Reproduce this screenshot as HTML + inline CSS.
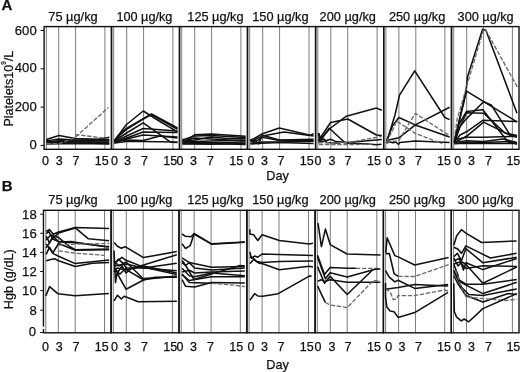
<!DOCTYPE html>
<html lang="en"><head><meta charset="utf-8"><title>Figure</title>
<style>html,body{margin:0;padding:0;background:#fff}svg{display:block}</style></head>
<body><svg width="520" height="372" viewBox="0 0 520 372">
<rect width="520" height="372" fill="#fff"/>
<line x1="46.40" y1="26.6" x2="46.40" y2="149.3" stroke="#777" stroke-width="0.95"/>
<line x1="58.70" y1="26.6" x2="58.70" y2="149.3" stroke="#777" stroke-width="0.95"/>
<line x1="75.60" y1="26.6" x2="75.60" y2="149.3" stroke="#777" stroke-width="0.95"/>
<line x1="104.90" y1="26.6" x2="104.90" y2="149.3" stroke="#777" stroke-width="0.95"/>
<line x1="113.70" y1="26.6" x2="113.70" y2="149.3" stroke="#777" stroke-width="0.95"/>
<line x1="126.70" y1="26.6" x2="126.70" y2="149.3" stroke="#777" stroke-width="0.95"/>
<line x1="143.60" y1="26.6" x2="143.60" y2="149.3" stroke="#777" stroke-width="0.95"/>
<line x1="172.90" y1="26.6" x2="172.90" y2="149.3" stroke="#777" stroke-width="0.95"/>
<line x1="181.70" y1="26.6" x2="181.70" y2="149.3" stroke="#777" stroke-width="0.95"/>
<line x1="194.70" y1="26.6" x2="194.70" y2="149.3" stroke="#777" stroke-width="0.95"/>
<line x1="211.60" y1="26.6" x2="211.60" y2="149.3" stroke="#777" stroke-width="0.95"/>
<line x1="240.90" y1="26.6" x2="240.90" y2="149.3" stroke="#777" stroke-width="0.95"/>
<line x1="249.70" y1="26.6" x2="249.70" y2="149.3" stroke="#777" stroke-width="0.95"/>
<line x1="262.70" y1="26.6" x2="262.70" y2="149.3" stroke="#777" stroke-width="0.95"/>
<line x1="279.60" y1="26.6" x2="279.60" y2="149.3" stroke="#777" stroke-width="0.95"/>
<line x1="309.00" y1="26.6" x2="309.00" y2="149.3" stroke="#777" stroke-width="0.95"/>
<line x1="317.80" y1="26.6" x2="317.80" y2="149.3" stroke="#777" stroke-width="0.95"/>
<line x1="330.80" y1="26.6" x2="330.80" y2="149.3" stroke="#777" stroke-width="0.95"/>
<line x1="347.70" y1="26.6" x2="347.70" y2="149.3" stroke="#777" stroke-width="0.95"/>
<line x1="377.10" y1="26.6" x2="377.10" y2="149.3" stroke="#777" stroke-width="0.95"/>
<line x1="385.90" y1="26.6" x2="385.90" y2="149.3" stroke="#777" stroke-width="0.95"/>
<line x1="398.90" y1="26.6" x2="398.90" y2="149.3" stroke="#777" stroke-width="0.95"/>
<line x1="415.80" y1="26.6" x2="415.80" y2="149.3" stroke="#777" stroke-width="0.95"/>
<line x1="444.90" y1="26.6" x2="444.90" y2="149.3" stroke="#777" stroke-width="0.95"/>
<line x1="453.70" y1="26.6" x2="453.70" y2="149.3" stroke="#777" stroke-width="0.95"/>
<line x1="466.70" y1="26.6" x2="466.70" y2="149.3" stroke="#777" stroke-width="0.95"/>
<line x1="483.60" y1="26.6" x2="483.60" y2="149.3" stroke="#777" stroke-width="0.95"/>
<line x1="512.40" y1="26.6" x2="512.40" y2="149.3" stroke="#777" stroke-width="0.95"/>
<line x1="45.75" y1="210.3" x2="45.75" y2="332.8" stroke="#777" stroke-width="0.95"/>
<line x1="58.30" y1="210.3" x2="58.30" y2="332.8" stroke="#777" stroke-width="0.95"/>
<line x1="75.20" y1="210.3" x2="75.20" y2="332.8" stroke="#777" stroke-width="0.95"/>
<line x1="104.50" y1="210.3" x2="104.50" y2="332.8" stroke="#777" stroke-width="0.95"/>
<line x1="113.30" y1="210.3" x2="113.30" y2="332.8" stroke="#777" stroke-width="0.95"/>
<line x1="126.30" y1="210.3" x2="126.30" y2="332.8" stroke="#777" stroke-width="0.95"/>
<line x1="143.20" y1="210.3" x2="143.20" y2="332.8" stroke="#777" stroke-width="0.95"/>
<line x1="172.40" y1="210.3" x2="172.40" y2="332.8" stroke="#777" stroke-width="0.95"/>
<line x1="181.20" y1="210.3" x2="181.20" y2="332.8" stroke="#777" stroke-width="0.95"/>
<line x1="194.20" y1="210.3" x2="194.20" y2="332.8" stroke="#777" stroke-width="0.95"/>
<line x1="211.10" y1="210.3" x2="211.10" y2="332.8" stroke="#777" stroke-width="0.95"/>
<line x1="240.30" y1="210.3" x2="240.30" y2="332.8" stroke="#777" stroke-width="0.95"/>
<line x1="249.10" y1="210.3" x2="249.10" y2="332.8" stroke="#777" stroke-width="0.95"/>
<line x1="262.10" y1="210.3" x2="262.10" y2="332.8" stroke="#777" stroke-width="0.95"/>
<line x1="279.00" y1="210.3" x2="279.00" y2="332.8" stroke="#777" stroke-width="0.95"/>
<line x1="308.50" y1="210.3" x2="308.50" y2="332.8" stroke="#777" stroke-width="0.95"/>
<line x1="317.30" y1="210.3" x2="317.30" y2="332.8" stroke="#777" stroke-width="0.95"/>
<line x1="330.30" y1="210.3" x2="330.30" y2="332.8" stroke="#777" stroke-width="0.95"/>
<line x1="347.20" y1="210.3" x2="347.20" y2="332.8" stroke="#777" stroke-width="0.95"/>
<line x1="376.80" y1="210.3" x2="376.80" y2="332.8" stroke="#777" stroke-width="0.95"/>
<line x1="385.60" y1="210.3" x2="385.60" y2="332.8" stroke="#777" stroke-width="0.95"/>
<line x1="398.60" y1="210.3" x2="398.60" y2="332.8" stroke="#777" stroke-width="0.95"/>
<line x1="415.50" y1="210.3" x2="415.50" y2="332.8" stroke="#777" stroke-width="0.95"/>
<line x1="444.70" y1="210.3" x2="444.70" y2="332.8" stroke="#777" stroke-width="0.95"/>
<line x1="453.50" y1="210.3" x2="453.50" y2="332.8" stroke="#777" stroke-width="0.95"/>
<line x1="466.50" y1="210.3" x2="466.50" y2="332.8" stroke="#777" stroke-width="0.95"/>
<line x1="483.40" y1="210.3" x2="483.40" y2="332.8" stroke="#777" stroke-width="0.95"/>
<line x1="512.40" y1="210.3" x2="512.40" y2="332.8" stroke="#777" stroke-width="0.95"/>
<polyline points="46.4,139.5 58.9,135.4 75.5,138.5 97.8,139.2 109.3,137.2" fill="none" stroke="#111" stroke-width="1.55" stroke-linejoin="round"/>
<polyline points="46.4,141.0 58.9,139.0 75.5,140.0 109.3,139.5" fill="none" stroke="#111" stroke-width="1.55" stroke-linejoin="round"/>
<polyline points="46.4,140.0 50.0,142.0 58.9,140.5 75.5,141.0 109.3,141.0" fill="none" stroke="#111" stroke-width="1.55" stroke-linejoin="round"/>
<polyline points="46.4,143.0 58.9,141.5 75.5,142.0 109.3,142.5" fill="none" stroke="#111" stroke-width="1.55" stroke-linejoin="round"/>
<polyline points="46.4,141.5 58.9,143.0 75.5,143.0 109.3,143.5" fill="none" stroke="#111" stroke-width="1.55" stroke-linejoin="round"/>
<polyline points="46.4,144.0 58.9,143.8 75.5,143.6 109.3,144.0" fill="none" stroke="#111" stroke-width="1.55" stroke-linejoin="round"/>
<polyline points="46.4,142.5 58.9,142.2 75.5,141.3 109.3,140.3" fill="none" stroke="#111" stroke-width="1.55" stroke-linejoin="round"/>
<polyline points="46.4,143.5 58.9,143.8 75.5,137.2 108.3,107.5" fill="none" stroke="#6a6a6a" stroke-width="1.35" stroke-dasharray="4.4 1.7" stroke-linejoin="round"/>
<polyline points="75.0,134.9 79.5,135.0 107.7,138.6" fill="none" stroke="#6a6a6a" stroke-width="1.35" stroke-dasharray="4.4 1.7" stroke-linejoin="round"/>
<polyline points="114.4,140.5 126.5,124.5 143.2,111.0 160.0,121.5 177.5,131.8" fill="none" stroke="#111" stroke-width="1.55" stroke-linejoin="round"/>
<polyline points="114.4,141.0 119.0,135.0 126.5,128.3 151.5,114.0 177.5,128.0" fill="none" stroke="#111" stroke-width="1.55" stroke-linejoin="round"/>
<polyline points="114.4,142.0 119.5,135.5 126.5,129.3 143.2,119.0 151.5,114.6 177.5,129.2" fill="none" stroke="#111" stroke-width="1.55" stroke-linejoin="round"/>
<polyline points="114.4,141.0 126.5,133.0 143.2,122.8 171.0,142.3 177.5,142.5" fill="none" stroke="#111" stroke-width="1.55" stroke-linejoin="round"/>
<polyline points="114.4,142.0 126.5,136.0 143.2,128.5 177.5,131.0" fill="none" stroke="#111" stroke-width="1.55" stroke-linejoin="round"/>
<polyline points="114.4,142.5 126.5,138.0 143.2,132.0 177.5,132.5" fill="none" stroke="#111" stroke-width="1.55" stroke-linejoin="round"/>
<polyline points="114.4,143.0 126.5,139.0 143.2,135.0 160.0,136.0 177.5,138.0" fill="none" stroke="#111" stroke-width="1.55" stroke-linejoin="round"/>
<polyline points="114.4,141.0 126.5,140.0 143.2,140.5 160.0,136.0 177.5,137.0" fill="none" stroke="#111" stroke-width="1.55" stroke-linejoin="round"/>
<polyline points="114.4,143.0 126.5,141.5 143.2,141.5 177.5,142.0" fill="none" stroke="#111" stroke-width="1.55" stroke-linejoin="round"/>
<polyline points="182.4,139.0 185.0,141.5 194.5,134.8 211.3,133.9 245.6,136.2" fill="none" stroke="#111" stroke-width="1.55" stroke-linejoin="round"/>
<polyline points="182.4,140.0 194.5,136.0 211.3,135.5 245.6,137.5" fill="none" stroke="#111" stroke-width="1.55" stroke-linejoin="round"/>
<polyline points="182.4,141.0 194.5,140.0 211.3,137.0 228.0,138.5 245.6,138.5" fill="none" stroke="#111" stroke-width="1.55" stroke-linejoin="round"/>
<polyline points="182.4,142.0 194.5,141.5 211.3,141.0 245.6,140.0" fill="none" stroke="#111" stroke-width="1.55" stroke-linejoin="round"/>
<polyline points="182.4,143.0 194.5,142.5 211.3,142.8 245.6,142.0" fill="none" stroke="#111" stroke-width="1.55" stroke-linejoin="round"/>
<polyline points="182.4,144.0 194.5,144.0 211.3,144.2 245.6,143.5" fill="none" stroke="#111" stroke-width="1.55" stroke-linejoin="round"/>
<polyline points="182.4,141.5 194.5,138.0 211.3,139.0 245.6,141.0" fill="none" stroke="#111" stroke-width="1.55" stroke-linejoin="round"/>
<polyline points="182.4,143.5 194.5,143.3 211.3,143.5 245.6,144.5" fill="none" stroke="#111" stroke-width="1.55" stroke-linejoin="round"/>
<polyline points="250.4,140.6 262.5,133.8 279.3,128.1 310.3,135.2 313.6,133.8" fill="none" stroke="#111" stroke-width="1.55" stroke-linejoin="round"/>
<polyline points="250.4,141.9 262.5,135.9 284.0,132.1 313.6,135.9" fill="none" stroke="#111" stroke-width="1.55" stroke-linejoin="round"/>
<polyline points="250.4,139.9 258.4,143.9 262.5,135.2 279.3,139.9 313.6,139.2" fill="none" stroke="#111" stroke-width="1.55" stroke-linejoin="round"/>
<polyline points="250.4,139.2 256.4,141.2 262.5,137.2 279.3,140.6 313.6,140.6" fill="none" stroke="#111" stroke-width="1.55" stroke-linejoin="round"/>
<polyline points="250.4,143.3 262.5,141.9 279.3,141.9 313.6,141.2" fill="none" stroke="#111" stroke-width="1.55" stroke-linejoin="round"/>
<polyline points="250.4,143.9 262.5,143.3 279.3,142.6 313.6,143.5" fill="none" stroke="#111" stroke-width="1.55" stroke-linejoin="round"/>
<polyline points="318.5,141.3 330.6,128.0 346.4,116.2 376.5,108.1 381.8,110.3" fill="none" stroke="#111" stroke-width="1.55" stroke-linejoin="round"/>
<polyline points="318.5,140.6 330.6,122.5 347.8,119.0 376.5,135.0 381.8,135.4" fill="none" stroke="#111" stroke-width="1.55" stroke-linejoin="round"/>
<polyline points="318.5,132.9 319.6,141.8 329.3,128.2 345.3,143.0 368.0,144.0 376.3,144.8 381.5,144.2" fill="none" stroke="#111" stroke-width="1.55" stroke-linejoin="round"/>
<polyline points="318.8,133.5 321.3,139.9 324.0,139.0 327.0,142.5 340.0,143.2" fill="none" stroke="#111" stroke-width="1.55" stroke-linejoin="round"/>
<polyline points="318.5,142.7 330.6,139.3 336.0,141.6 347.8,142.6 381.8,139.4" fill="none" stroke="#111" stroke-width="1.55" stroke-linejoin="round"/>
<polyline points="318.5,142.7 347.8,142.7 381.8,136.4" fill="none" stroke="#6a6a6a" stroke-width="1.35" stroke-dasharray="4.4 1.7" stroke-linejoin="round"/>
<polyline points="319.0,144.6 372.0,144.4" fill="none" stroke="#6a6a6a" stroke-width="1.35" stroke-dasharray="4.4 1.7" stroke-linejoin="round"/>
<polyline points="386.4,143.0 395.1,114.5 399.5,95.1 414.7,70.9 444.9,117.5 449.6,119.6" fill="none" stroke="#111" stroke-width="1.55" stroke-linejoin="round"/>
<polyline points="386.4,141.5 392.7,125.4 398.9,117.5 415.3,124.9 449.6,137.0" fill="none" stroke="#111" stroke-width="1.55" stroke-linejoin="round"/>
<polyline points="386.4,140.6 398.9,137.8 415.3,124.9 449.6,107.3" fill="none" stroke="#111" stroke-width="1.55" stroke-linejoin="round"/>
<polyline points="386.4,143.1 389.8,142.0 393.1,142.8 395.8,142.0 398.5,144.4 399.8,142.4 415.3,141.0 449.6,142.4" fill="none" stroke="#111" stroke-width="1.55" stroke-linejoin="round"/>
<polyline points="386.4,142.3 398.7,140.6 415.3,113.4 449.6,135.7" fill="none" stroke="#6a6a6a" stroke-width="1.35" stroke-dasharray="4.4 1.7" stroke-linejoin="round"/>
<polyline points="386.4,142.3 392.7,130.2 396.5,121.0 415.3,133.4 442.2,143.7" fill="none" stroke="#6a6a6a" stroke-width="1.35" stroke-dasharray="4.4 1.7" stroke-linejoin="round"/>
<polyline points="454.4,142.5 460.6,114.1 466.0,91.0 467.4,77.2 482.6,29.3 486.0,30.5 517.0,113.2" fill="none" stroke="#111" stroke-width="1.55" stroke-linejoin="round"/>
<polyline points="454.4,140.0 457.1,119.4 462.4,101.7 467.3,84.0 483.4,30.2 485.6,29.8 517.3,86.9" fill="none" stroke="#6a6a6a" stroke-width="1.35" stroke-dasharray="4.4 1.7" stroke-linejoin="round"/>
<polyline points="454.4,142.0 466.5,91.1 517.3,122.1" fill="none" stroke="#111" stroke-width="1.55" stroke-linejoin="round"/>
<polyline points="454.4,141.5 460.0,126.5 466.5,118.6 483.7,101.7 491.6,105.3 510.3,135.4 517.0,137.2" fill="none" stroke="#111" stroke-width="1.55" stroke-linejoin="round"/>
<polyline points="454.4,142.0 458.5,125.0 466.5,111.5 482.8,109.7 508.5,142.5 517.0,143.0" fill="none" stroke="#111" stroke-width="1.55" stroke-linejoin="round"/>
<polyline points="454.4,142.5 459.5,128.0 466.5,112.8 483.7,113.2 505.0,133.0 517.0,135.5" fill="none" stroke="#111" stroke-width="1.55" stroke-linejoin="round"/>
<polyline points="454.4,141.5 460.0,135.0 466.5,131.8 482.8,120.3 517.0,121.6" fill="none" stroke="#111" stroke-width="1.55" stroke-linejoin="round"/>
<polyline points="454.4,142.5 466.5,136.3 483.7,122.1 510.3,135.4 517.0,136.0" fill="none" stroke="#111" stroke-width="1.55" stroke-linejoin="round"/>
<polyline points="454.4,139.8 466.5,137.2 483.7,137.2 517.0,136.3" fill="none" stroke="#111" stroke-width="1.55" stroke-linejoin="round"/>
<polyline points="454.4,142.5 466.5,140.7 483.7,141.6 503.0,139.0 517.0,142.5" fill="none" stroke="#111" stroke-width="1.55" stroke-linejoin="round"/>
<polyline points="454.4,143.4 466.5,143.2 483.7,143.4 517.0,143.6" fill="none" stroke="#111" stroke-width="1.55" stroke-linejoin="round"/>
<polyline points="454.4,143.8 466.5,142.2 483.7,142.6 510.0,141.5 517.0,144.3" fill="none" stroke="#111" stroke-width="1.55" stroke-linejoin="round"/>
<polyline points="46.2,231.5 49.5,229.5 53.3,234.3 58.6,232.0 75.3,227.6 109.1,228.5" fill="none" stroke="#111" stroke-width="1.55" stroke-linejoin="round"/>
<polyline points="46.2,233.6 48.8,231.7 52.7,238.8 58.6,233.0 75.3,227.9 88.5,238.8 109.1,240.7" fill="none" stroke="#111" stroke-width="1.55" stroke-linejoin="round"/>
<polyline points="46.2,240.1 50.7,234.9 58.6,237.6 69.5,246.5 75.3,249.7 109.1,249.1" fill="none" stroke="#111" stroke-width="1.55" stroke-linejoin="round"/>
<polyline points="46.2,247.8 52.0,238.8 58.6,241.6 68.8,242.4 75.3,242.2 104.6,246.5 109.1,246.5" fill="none" stroke="#111" stroke-width="1.55" stroke-linejoin="round"/>
<polyline points="46.2,243.9 52.7,253.0 58.6,243.5 75.3,250.2 109.1,249.8" fill="none" stroke="#111" stroke-width="1.55" stroke-linejoin="round"/>
<polyline points="46.2,254.3 49.5,247.2 53.3,253.6 58.6,256.2 75.3,263.6 109.1,260.1" fill="none" stroke="#111" stroke-width="1.55" stroke-linejoin="round"/>
<polyline points="46.2,260.7 50.7,259.4 54.6,258.8 58.6,260.7 75.3,266.5 92.4,263.3 109.1,262.6" fill="none" stroke="#111" stroke-width="1.55" stroke-linejoin="round"/>
<polyline points="46.2,236.2 49.5,243.0 53.0,236.0 58.6,241.9 72.0,241.5 75.3,242.7 109.1,247.0" fill="none" stroke="#111" stroke-width="1.55" stroke-linejoin="round"/>
<polyline points="58.6,245.2 75.3,244.0 95.0,243.8 109.1,243.3" fill="none" stroke="#6a6a6a" stroke-width="1.35" stroke-dasharray="4.4 1.7" stroke-linejoin="round"/>
<polyline points="58.6,250.8 75.3,253.2 104.5,255.3" fill="none" stroke="#6a6a6a" stroke-width="1.35" stroke-dasharray="4.4 1.7" stroke-linejoin="round"/>
<polyline points="45.8,296.0 49.6,286.6 58.1,293.8 75.0,295.7 108.9,293.6" fill="none" stroke="#111" stroke-width="1.55" stroke-linejoin="round"/>
<polyline points="114.1,242.5 117.5,246.3 121.3,248.2 125.1,246.7 143.5,257.6 176.8,251.6" fill="none" stroke="#111" stroke-width="1.55" stroke-linejoin="round"/>
<polyline points="114.1,300.9 117.5,295.2 121.3,299.0 124.1,296.2 128.8,298.0 138.2,301.8 176.8,301.2" fill="none" stroke="#111" stroke-width="1.55" stroke-linejoin="round"/>
<polyline points="114.0,250.5 115.5,282.6 117.0,273.0 126.1,289.3 143.0,280.2 155.0,277.3 176.8,277.3" fill="none" stroke="#111" stroke-width="1.55" stroke-linejoin="round"/>
<polyline points="114.0,263.3 121.9,257.3 126.1,260.3 143.0,266.9 176.8,274.5" fill="none" stroke="#111" stroke-width="1.55" stroke-linejoin="round"/>
<polyline points="114.0,265.7 118.3,259.1 123.1,263.3 127.9,270.6 143.0,279.5 176.8,276.0" fill="none" stroke="#111" stroke-width="1.55" stroke-linejoin="round"/>
<polyline points="114.0,261.0 119.0,266.0 126.1,262.0 143.0,278.5 160.0,277.5 176.8,277.0" fill="none" stroke="#111" stroke-width="1.55" stroke-linejoin="round"/>
<polyline points="114.0,268.0 118.0,272.0 122.0,266.0 126.1,273.0 132.0,268.0 143.5,265.1 176.8,254.8" fill="none" stroke="#111" stroke-width="1.55" stroke-linejoin="round"/>
<polyline points="114.0,270.0 120.0,274.0 126.1,268.0 143.5,267.9 176.8,263.2" fill="none" stroke="#111" stroke-width="1.55" stroke-linejoin="round"/>
<polyline points="114.0,266.0 126.1,264.0 143.5,268.0 176.8,270.8" fill="none" stroke="#111" stroke-width="1.55" stroke-linejoin="round"/>
<polyline points="114.0,272.0 117.0,268.0 126.1,270.0 143.5,266.0 176.8,273.0" fill="none" stroke="#111" stroke-width="1.55" stroke-linejoin="round"/>
<polyline points="182.1,234.0 185.5,236.3 191.2,236.7 194.0,233.5 211.5,243.8 244.8,241.9" fill="none" stroke="#111" stroke-width="1.55" stroke-linejoin="round"/>
<polyline points="182.1,243.8 185.5,248.5 190.2,245.7 194.0,234.0 211.5,244.2 244.8,242.3" fill="none" stroke="#111" stroke-width="1.55" stroke-linejoin="round"/>
<polyline points="182.1,257.9 189.3,262.6 211.5,267.3 244.8,266.4" fill="none" stroke="#111" stroke-width="1.55" stroke-linejoin="round"/>
<polyline points="182.1,260.5 186.0,266.0 194.0,279.6 211.5,273.9 240.1,265.5 244.8,266.0" fill="none" stroke="#111" stroke-width="1.55" stroke-linejoin="round"/>
<polyline points="182.1,272.0 189.3,270.2 194.6,273.0 211.5,272.0 244.8,271.1" fill="none" stroke="#111" stroke-width="1.55" stroke-linejoin="round"/>
<polyline points="182.1,268.3 189.3,275.8 194.6,276.7 211.5,273.0 244.8,275.8" fill="none" stroke="#111" stroke-width="1.55" stroke-linejoin="round"/>
<polyline points="182.1,274.9 189.3,280.5 211.5,276.7 244.8,276.7" fill="none" stroke="#111" stroke-width="1.55" stroke-linejoin="round"/>
<polyline points="182.1,279.6 185.5,286.2 194.6,287.1 211.5,282.4 244.8,283.0" fill="none" stroke="#111" stroke-width="1.55" stroke-linejoin="round"/>
<polyline points="182.1,262.6 185.5,265.5 189.3,262.6 194.6,268.0 211.5,270.0 244.8,268.0" fill="none" stroke="#111" stroke-width="1.55" stroke-linejoin="round"/>
<polyline points="182.1,273.9 189.3,282.4 211.5,283.3" fill="none" stroke="#111" stroke-width="1.55" stroke-linejoin="round"/>
<polyline points="211.5,283.3 234.5,285.2 244.8,286.7" fill="none" stroke="#6a6a6a" stroke-width="1.35" stroke-dasharray="4.4 1.7" stroke-linejoin="round"/>
<polyline points="249.9,229.3 249.9,234.0 253.5,234.7 257.8,240.5 262.1,234.7 279.3,240.5 309.3,243.9 313.0,243.3" fill="none" stroke="#111" stroke-width="1.55" stroke-linejoin="round"/>
<polyline points="249.9,251.8 251.4,258.3 254.6,256.1 257.8,257.2 262.1,254.0 313.0,255.5" fill="none" stroke="#111" stroke-width="1.55" stroke-linejoin="round"/>
<polyline points="249.9,257.2 252.4,257.2 256.7,261.5 262.1,262.6 279.3,261.5 313.0,261.1" fill="none" stroke="#111" stroke-width="1.55" stroke-linejoin="round"/>
<polyline points="249.9,263.7 253.5,259.4 258.9,263.2 262.7,263.7 279.3,269.7 309.3,266.2 313.0,266.9" fill="none" stroke="#111" stroke-width="1.55" stroke-linejoin="round"/>
<polyline points="249.9,300.2 254.6,293.7 257.8,295.9 262.7,296.3 278.2,293.7 309.3,276.1 311.5,276.1" fill="none" stroke="#111" stroke-width="1.55" stroke-linejoin="round"/>
<polyline points="318.0,223.1 321.4,246.6 325.4,229.1 330.2,244.6 347.0,254.0 380.6,255.1" fill="none" stroke="#111" stroke-width="1.55" stroke-linejoin="round"/>
<polyline points="317.5,255.2 324.5,274.4 330.1,267.5 347.2,268.3 355.9,268.3" fill="none" stroke="#111" stroke-width="1.55" stroke-linejoin="round"/>
<polyline points="355.9,268.3 380.3,268.5" fill="none" stroke="#6a6a6a" stroke-width="1.35" stroke-dasharray="4.4 1.7" stroke-linejoin="round"/>
<polyline points="317.5,257.0 325.3,278.8 330.1,272.7 347.2,277.1 375.1,269.2 380.3,268.9" fill="none" stroke="#111" stroke-width="1.55" stroke-linejoin="round"/>
<polyline points="317.5,266.6 324.5,283.2 330.1,276.2 347.2,294.5 373.3,269.2" fill="none" stroke="#111" stroke-width="1.55" stroke-linejoin="round"/>
<polyline points="317.5,281.4 321.0,279.7 324.5,281.4 330.1,279.7 347.2,282.3 380.3,282.3" fill="none" stroke="#111" stroke-width="1.55" stroke-linejoin="round"/>
<polyline points="317.5,285.8 325.3,302.4" fill="none" stroke="#111" stroke-width="1.55" stroke-linejoin="round"/>
<polyline points="325.3,302.4 330.1,305.0 347.2,307.6 373.3,280.5 380.3,281.1" fill="none" stroke="#6a6a6a" stroke-width="1.35" stroke-dasharray="4.4 1.7" stroke-linejoin="round"/>
<polyline points="385.8,252.9 387.1,237.8 394.8,255.6 398.2,256.9 414.7,265.0 448.6,257.6" fill="none" stroke="#111" stroke-width="1.55" stroke-linejoin="round"/>
<polyline points="385.8,253.6 389.4,253.6 394.1,273.7 398.2,276.4" fill="none" stroke="#111" stroke-width="1.55" stroke-linejoin="round"/>
<polyline points="398.2,276.4 414.7,276.5 448.6,264.6" fill="none" stroke="#6a6a6a" stroke-width="1.35" stroke-dasharray="4.4 1.7" stroke-linejoin="round"/>
<polyline points="385.5,270.6 389.3,277.1 394.9,281.9 398.1,280.3 414.7,288.4 448.1,284.4" fill="none" stroke="#111" stroke-width="1.55" stroke-linejoin="round"/>
<polyline points="385.5,289.2 398.1,287.6 414.7,284.4 430.4,285.2 448.1,286.0" fill="none" stroke="#111" stroke-width="1.55" stroke-linejoin="round"/>
<polyline points="385.5,289.2 390.1,291.6 393.3,299.7 396.5,298.9 398.1,295.6 414.7,295.6 444.4,290.0 448.1,290.8" fill="none" stroke="#6a6a6a" stroke-width="1.35" stroke-dasharray="4.4 1.7" stroke-linejoin="round"/>
<polyline points="385.5,283.0 385.5,296.5 386.8,306.9 390.1,311.0 394.1,311.8 398.1,317.4 414.7,312.6 448.1,292.4" fill="none" stroke="#111" stroke-width="1.55" stroke-linejoin="round"/>
<polyline points="453.8,245.2 456.7,235.8 461.4,229.7 465.9,233.1 481.6,242.5 516.6,240.9" fill="none" stroke="#111" stroke-width="1.55" stroke-linejoin="round"/>
<polyline points="453.8,247.2 458.1,249.2 461.4,253.3 465.9,245.9 490.4,258.0 516.6,253.3" fill="none" stroke="#111" stroke-width="1.55" stroke-linejoin="round"/>
<polyline points="453.8,256.6 457.4,253.3 461.4,260.7 465.9,248.6 482.7,262.7 516.6,257.3" fill="none" stroke="#111" stroke-width="1.55" stroke-linejoin="round"/>
<polyline points="453.8,260.7 459.4,258.6 463.5,270.1 465.9,262.7 482.9,269.6 516.8,258.5" fill="none" stroke="#111" stroke-width="1.55" stroke-linejoin="round"/>
<polyline points="453.8,264.0 460.0,262.0 466.0,268.5 482.9,265.7 516.8,266.5" fill="none" stroke="#111" stroke-width="1.55" stroke-linejoin="round"/>
<polyline points="453.8,258.0 458.0,266.0 462.0,262.0 466.0,264.4 482.9,283.2 516.8,267.0" fill="none" stroke="#111" stroke-width="1.55" stroke-linejoin="round"/>
<polyline points="453.8,272.0 459.0,280.0 466.0,284.2 482.9,284.2 516.8,279.5" fill="none" stroke="#111" stroke-width="1.55" stroke-linejoin="round"/>
<polyline points="453.8,264.4 457.5,273.8 459.4,281.3 466.0,285.1 482.9,293.6 516.8,282.3" fill="none" stroke="#111" stroke-width="1.55" stroke-linejoin="round"/>
<polyline points="453.8,270.0 457.0,278.0 461.3,287.0 468.8,294.5 482.9,295.5 516.8,288.9" fill="none" stroke="#111" stroke-width="1.55" stroke-linejoin="round"/>
<polyline points="453.8,275.7 458.0,284.0 466.0,295.5 482.9,302.0 508.3,293.6 516.8,294.5" fill="none" stroke="#111" stroke-width="1.55" stroke-linejoin="round"/>
<polyline points="455.6,270.0 461.3,287.0 466.0,296.8 482.9,298.7 506.5,300.5 516.8,299.2" fill="none" stroke="#6a6a6a" stroke-width="1.35" stroke-dasharray="4.4 1.7" stroke-linejoin="round"/>
<polyline points="453.8,283.2 454.3,311.5 456.6,317.1 461.3,320.9 464.1,319.0 468.8,321.8 482.9,308.6 516.8,293.6" fill="none" stroke="#111" stroke-width="1.55" stroke-linejoin="round"/>
<rect x="44.10" y="26.6" width="67.40" height="122.70" fill="none" stroke="#111" stroke-width="1.4"/>
<rect x="111.50" y="26.6" width="68.00" height="122.70" fill="none" stroke="#111" stroke-width="1.4"/>
<rect x="179.50" y="26.6" width="68.00" height="122.70" fill="none" stroke="#111" stroke-width="1.4"/>
<rect x="247.50" y="26.6" width="68.10" height="122.70" fill="none" stroke="#111" stroke-width="1.4"/>
<rect x="315.60" y="26.6" width="68.10" height="122.70" fill="none" stroke="#111" stroke-width="1.4"/>
<rect x="383.70" y="26.6" width="67.80" height="122.70" fill="none" stroke="#111" stroke-width="1.4"/>
<rect x="451.50" y="26.6" width="67.50" height="122.70" fill="none" stroke="#111" stroke-width="1.4"/>
<rect x="43.45" y="210.3" width="67.65" height="122.50" fill="none" stroke="#111" stroke-width="1.4"/>
<rect x="111.10" y="210.3" width="67.90" height="122.50" fill="none" stroke="#111" stroke-width="1.4"/>
<rect x="179.00" y="210.3" width="67.90" height="122.50" fill="none" stroke="#111" stroke-width="1.4"/>
<rect x="246.90" y="210.3" width="68.20" height="122.50" fill="none" stroke="#111" stroke-width="1.4"/>
<rect x="315.10" y="210.3" width="68.30" height="122.50" fill="none" stroke="#111" stroke-width="1.4"/>
<rect x="383.40" y="210.3" width="67.90" height="122.50" fill="none" stroke="#111" stroke-width="1.4"/>
<rect x="451.30" y="210.3" width="67.70" height="122.50" fill="none" stroke="#111" stroke-width="1.4"/>
<text x="48.3" y="20.6" font-family="Liberation Sans, Arial, Helvetica, sans-serif" stroke="#111" stroke-width="0.25" font-size="12.7" textLength="49.4" lengthAdjust="spacingAndGlyphs" fill="#111">75 µg/kg</text>
<text x="116.4" y="20.6" font-family="Liberation Sans, Arial, Helvetica, sans-serif" stroke="#111" stroke-width="0.25" font-size="12.7" textLength="56.0" lengthAdjust="spacingAndGlyphs" fill="#111">100 µg/kg</text>
<text x="187.3" y="20.6" font-family="Liberation Sans, Arial, Helvetica, sans-serif" stroke="#111" stroke-width="0.25" font-size="12.7" textLength="56.3" lengthAdjust="spacingAndGlyphs" fill="#111">125 µg/kg</text>
<text x="252.2" y="20.6" font-family="Liberation Sans, Arial, Helvetica, sans-serif" stroke="#111" stroke-width="0.25" font-size="12.7" textLength="56.4" lengthAdjust="spacingAndGlyphs" fill="#111">150 µg/kg</text>
<text x="319.6" y="20.6" font-family="Liberation Sans, Arial, Helvetica, sans-serif" stroke="#111" stroke-width="0.25" font-size="12.7" textLength="56.4" lengthAdjust="spacingAndGlyphs" fill="#111">200 µg/kg</text>
<text x="388.9" y="20.6" font-family="Liberation Sans, Arial, Helvetica, sans-serif" stroke="#111" stroke-width="0.25" font-size="12.7" textLength="56.4" lengthAdjust="spacingAndGlyphs" fill="#111">250 µg/kg</text>
<text x="457.6" y="20.6" font-family="Liberation Sans, Arial, Helvetica, sans-serif" stroke="#111" stroke-width="0.25" font-size="12.7" textLength="56.1" lengthAdjust="spacingAndGlyphs" fill="#111">300 µg/kg</text>
<text x="48.3" y="204.4" font-family="Liberation Sans, Arial, Helvetica, sans-serif" stroke="#111" stroke-width="0.25" font-size="12.7" textLength="49.4" lengthAdjust="spacingAndGlyphs" fill="#111">75 µg/kg</text>
<text x="116.4" y="204.4" font-family="Liberation Sans, Arial, Helvetica, sans-serif" stroke="#111" stroke-width="0.25" font-size="12.7" textLength="56.0" lengthAdjust="spacingAndGlyphs" fill="#111">100 µg/kg</text>
<text x="187.3" y="204.4" font-family="Liberation Sans, Arial, Helvetica, sans-serif" stroke="#111" stroke-width="0.25" font-size="12.7" textLength="56.3" lengthAdjust="spacingAndGlyphs" fill="#111">125 µg/kg</text>
<text x="252.2" y="204.4" font-family="Liberation Sans, Arial, Helvetica, sans-serif" stroke="#111" stroke-width="0.25" font-size="12.7" textLength="56.4" lengthAdjust="spacingAndGlyphs" fill="#111">150 µg/kg</text>
<text x="319.6" y="204.4" font-family="Liberation Sans, Arial, Helvetica, sans-serif" stroke="#111" stroke-width="0.25" font-size="12.7" textLength="56.4" lengthAdjust="spacingAndGlyphs" fill="#111">200 µg/kg</text>
<text x="388.9" y="204.4" font-family="Liberation Sans, Arial, Helvetica, sans-serif" stroke="#111" stroke-width="0.25" font-size="12.7" textLength="56.4" lengthAdjust="spacingAndGlyphs" fill="#111">250 µg/kg</text>
<text x="457.6" y="204.4" font-family="Liberation Sans, Arial, Helvetica, sans-serif" stroke="#111" stroke-width="0.25" font-size="12.7" textLength="56.1" lengthAdjust="spacingAndGlyphs" fill="#111">300 µg/kg</text>
<text x="45.40" y="164.8" font-family="Liberation Sans, Arial, Helvetica, sans-serif" stroke="#111" stroke-width="0.25" font-size="12.5" text-anchor="middle" fill="#111">0</text>
<text x="59.20" y="164.8" font-family="Liberation Sans, Arial, Helvetica, sans-serif" stroke="#111" stroke-width="0.25" font-size="12.5" text-anchor="middle" fill="#111">3</text>
<text x="75.90" y="164.8" font-family="Liberation Sans, Arial, Helvetica, sans-serif" stroke="#111" stroke-width="0.25" font-size="12.5" text-anchor="middle" fill="#111">7</text>
<text x="101.75" y="164.8" font-family="Liberation Sans, Arial, Helvetica, sans-serif" stroke="#111" stroke-width="0.25" font-size="12.5" text-anchor="middle" fill="#111">15</text>
<text x="114.40" y="164.8" font-family="Liberation Sans, Arial, Helvetica, sans-serif" stroke="#111" stroke-width="0.25" font-size="12.5" text-anchor="middle" fill="#111">0</text>
<text x="127.50" y="164.8" font-family="Liberation Sans, Arial, Helvetica, sans-serif" stroke="#111" stroke-width="0.25" font-size="12.5" text-anchor="middle" fill="#111">3</text>
<text x="144.40" y="164.8" font-family="Liberation Sans, Arial, Helvetica, sans-serif" stroke="#111" stroke-width="0.25" font-size="12.5" text-anchor="middle" fill="#111">7</text>
<text x="170.25" y="164.8" font-family="Liberation Sans, Arial, Helvetica, sans-serif" stroke="#111" stroke-width="0.25" font-size="12.5" text-anchor="middle" fill="#111">15</text>
<text x="180.00" y="164.8" font-family="Liberation Sans, Arial, Helvetica, sans-serif" stroke="#111" stroke-width="0.25" font-size="12.5" text-anchor="middle" fill="#111">0</text>
<text x="193.60" y="164.8" font-family="Liberation Sans, Arial, Helvetica, sans-serif" stroke="#111" stroke-width="0.25" font-size="12.5" text-anchor="middle" fill="#111">3</text>
<text x="210.60" y="164.8" font-family="Liberation Sans, Arial, Helvetica, sans-serif" stroke="#111" stroke-width="0.25" font-size="12.5" text-anchor="middle" fill="#111">7</text>
<text x="236.25" y="164.8" font-family="Liberation Sans, Arial, Helvetica, sans-serif" stroke="#111" stroke-width="0.25" font-size="12.5" text-anchor="middle" fill="#111">15</text>
<text x="250.90" y="164.8" font-family="Liberation Sans, Arial, Helvetica, sans-serif" stroke="#111" stroke-width="0.25" font-size="12.5" text-anchor="middle" fill="#111">0</text>
<text x="264.40" y="164.8" font-family="Liberation Sans, Arial, Helvetica, sans-serif" stroke="#111" stroke-width="0.25" font-size="12.5" text-anchor="middle" fill="#111">3</text>
<text x="280.90" y="164.8" font-family="Liberation Sans, Arial, Helvetica, sans-serif" stroke="#111" stroke-width="0.25" font-size="12.5" text-anchor="middle" fill="#111">7</text>
<text x="306.75" y="164.8" font-family="Liberation Sans, Arial, Helvetica, sans-serif" stroke="#111" stroke-width="0.25" font-size="12.5" text-anchor="middle" fill="#111">15</text>
<text x="318.10" y="164.8" font-family="Liberation Sans, Arial, Helvetica, sans-serif" stroke="#111" stroke-width="0.25" font-size="12.5" text-anchor="middle" fill="#111">0</text>
<text x="331.90" y="164.8" font-family="Liberation Sans, Arial, Helvetica, sans-serif" stroke="#111" stroke-width="0.25" font-size="12.5" text-anchor="middle" fill="#111">3</text>
<text x="347.90" y="164.8" font-family="Liberation Sans, Arial, Helvetica, sans-serif" stroke="#111" stroke-width="0.25" font-size="12.5" text-anchor="middle" fill="#111">7</text>
<text x="374.00" y="164.8" font-family="Liberation Sans, Arial, Helvetica, sans-serif" stroke="#111" stroke-width="0.25" font-size="12.5" text-anchor="middle" fill="#111">15</text>
<text x="388.75" y="164.8" font-family="Liberation Sans, Arial, Helvetica, sans-serif" stroke="#111" stroke-width="0.25" font-size="12.5" text-anchor="middle" fill="#111">0</text>
<text x="401.90" y="164.8" font-family="Liberation Sans, Arial, Helvetica, sans-serif" stroke="#111" stroke-width="0.25" font-size="12.5" text-anchor="middle" fill="#111">3</text>
<text x="418.60" y="164.8" font-family="Liberation Sans, Arial, Helvetica, sans-serif" stroke="#111" stroke-width="0.25" font-size="12.5" text-anchor="middle" fill="#111">7</text>
<text x="444.00" y="164.8" font-family="Liberation Sans, Arial, Helvetica, sans-serif" stroke="#111" stroke-width="0.25" font-size="12.5" text-anchor="middle" fill="#111">15</text>
<text x="457.70" y="164.8" font-family="Liberation Sans, Arial, Helvetica, sans-serif" stroke="#111" stroke-width="0.25" font-size="12.5" text-anchor="middle" fill="#111">0</text>
<text x="471.40" y="164.8" font-family="Liberation Sans, Arial, Helvetica, sans-serif" stroke="#111" stroke-width="0.25" font-size="12.5" text-anchor="middle" fill="#111">3</text>
<text x="488.50" y="164.8" font-family="Liberation Sans, Arial, Helvetica, sans-serif" stroke="#111" stroke-width="0.25" font-size="12.5" text-anchor="middle" fill="#111">7</text>
<text x="513.35" y="164.8" font-family="Liberation Sans, Arial, Helvetica, sans-serif" stroke="#111" stroke-width="0.25" font-size="12.5" text-anchor="middle" fill="#111">15</text>
<text x="45.40" y="351.0" font-family="Liberation Sans, Arial, Helvetica, sans-serif" stroke="#111" stroke-width="0.25" font-size="12.5" text-anchor="middle" fill="#111">0</text>
<text x="59.20" y="351.0" font-family="Liberation Sans, Arial, Helvetica, sans-serif" stroke="#111" stroke-width="0.25" font-size="12.5" text-anchor="middle" fill="#111">3</text>
<text x="75.90" y="351.0" font-family="Liberation Sans, Arial, Helvetica, sans-serif" stroke="#111" stroke-width="0.25" font-size="12.5" text-anchor="middle" fill="#111">7</text>
<text x="101.75" y="351.0" font-family="Liberation Sans, Arial, Helvetica, sans-serif" stroke="#111" stroke-width="0.25" font-size="12.5" text-anchor="middle" fill="#111">15</text>
<text x="114.40" y="351.0" font-family="Liberation Sans, Arial, Helvetica, sans-serif" stroke="#111" stroke-width="0.25" font-size="12.5" text-anchor="middle" fill="#111">0</text>
<text x="127.50" y="351.0" font-family="Liberation Sans, Arial, Helvetica, sans-serif" stroke="#111" stroke-width="0.25" font-size="12.5" text-anchor="middle" fill="#111">3</text>
<text x="144.40" y="351.0" font-family="Liberation Sans, Arial, Helvetica, sans-serif" stroke="#111" stroke-width="0.25" font-size="12.5" text-anchor="middle" fill="#111">7</text>
<text x="170.25" y="351.0" font-family="Liberation Sans, Arial, Helvetica, sans-serif" stroke="#111" stroke-width="0.25" font-size="12.5" text-anchor="middle" fill="#111">15</text>
<text x="180.00" y="351.0" font-family="Liberation Sans, Arial, Helvetica, sans-serif" stroke="#111" stroke-width="0.25" font-size="12.5" text-anchor="middle" fill="#111">0</text>
<text x="193.60" y="351.0" font-family="Liberation Sans, Arial, Helvetica, sans-serif" stroke="#111" stroke-width="0.25" font-size="12.5" text-anchor="middle" fill="#111">3</text>
<text x="210.60" y="351.0" font-family="Liberation Sans, Arial, Helvetica, sans-serif" stroke="#111" stroke-width="0.25" font-size="12.5" text-anchor="middle" fill="#111">7</text>
<text x="236.25" y="351.0" font-family="Liberation Sans, Arial, Helvetica, sans-serif" stroke="#111" stroke-width="0.25" font-size="12.5" text-anchor="middle" fill="#111">15</text>
<text x="250.90" y="351.0" font-family="Liberation Sans, Arial, Helvetica, sans-serif" stroke="#111" stroke-width="0.25" font-size="12.5" text-anchor="middle" fill="#111">0</text>
<text x="264.40" y="351.0" font-family="Liberation Sans, Arial, Helvetica, sans-serif" stroke="#111" stroke-width="0.25" font-size="12.5" text-anchor="middle" fill="#111">3</text>
<text x="280.90" y="351.0" font-family="Liberation Sans, Arial, Helvetica, sans-serif" stroke="#111" stroke-width="0.25" font-size="12.5" text-anchor="middle" fill="#111">7</text>
<text x="306.75" y="351.0" font-family="Liberation Sans, Arial, Helvetica, sans-serif" stroke="#111" stroke-width="0.25" font-size="12.5" text-anchor="middle" fill="#111">15</text>
<text x="318.10" y="351.0" font-family="Liberation Sans, Arial, Helvetica, sans-serif" stroke="#111" stroke-width="0.25" font-size="12.5" text-anchor="middle" fill="#111">0</text>
<text x="331.90" y="351.0" font-family="Liberation Sans, Arial, Helvetica, sans-serif" stroke="#111" stroke-width="0.25" font-size="12.5" text-anchor="middle" fill="#111">3</text>
<text x="347.90" y="351.0" font-family="Liberation Sans, Arial, Helvetica, sans-serif" stroke="#111" stroke-width="0.25" font-size="12.5" text-anchor="middle" fill="#111">7</text>
<text x="374.00" y="351.0" font-family="Liberation Sans, Arial, Helvetica, sans-serif" stroke="#111" stroke-width="0.25" font-size="12.5" text-anchor="middle" fill="#111">15</text>
<text x="388.75" y="351.0" font-family="Liberation Sans, Arial, Helvetica, sans-serif" stroke="#111" stroke-width="0.25" font-size="12.5" text-anchor="middle" fill="#111">0</text>
<text x="401.90" y="351.0" font-family="Liberation Sans, Arial, Helvetica, sans-serif" stroke="#111" stroke-width="0.25" font-size="12.5" text-anchor="middle" fill="#111">3</text>
<text x="418.60" y="351.0" font-family="Liberation Sans, Arial, Helvetica, sans-serif" stroke="#111" stroke-width="0.25" font-size="12.5" text-anchor="middle" fill="#111">7</text>
<text x="444.00" y="351.0" font-family="Liberation Sans, Arial, Helvetica, sans-serif" stroke="#111" stroke-width="0.25" font-size="12.5" text-anchor="middle" fill="#111">15</text>
<text x="457.70" y="351.0" font-family="Liberation Sans, Arial, Helvetica, sans-serif" stroke="#111" stroke-width="0.25" font-size="12.5" text-anchor="middle" fill="#111">0</text>
<text x="471.40" y="351.0" font-family="Liberation Sans, Arial, Helvetica, sans-serif" stroke="#111" stroke-width="0.25" font-size="12.5" text-anchor="middle" fill="#111">3</text>
<text x="488.50" y="351.0" font-family="Liberation Sans, Arial, Helvetica, sans-serif" stroke="#111" stroke-width="0.25" font-size="12.5" text-anchor="middle" fill="#111">7</text>
<text x="513.35" y="351.0" font-family="Liberation Sans, Arial, Helvetica, sans-serif" stroke="#111" stroke-width="0.25" font-size="12.5" text-anchor="middle" fill="#111">15</text>
<line x1="40.5" y1="30.50" x2="44.1" y2="30.50" stroke="#111" stroke-width="1"/>
<text x="36.7" y="35.25" font-family="Liberation Sans, Arial, Helvetica, sans-serif" stroke="#111" stroke-width="0.25" font-size="13.1" text-anchor="end" fill="#111">600</text>
<line x1="40.5" y1="68.80" x2="44.1" y2="68.80" stroke="#111" stroke-width="1"/>
<text x="36.7" y="72.45" font-family="Liberation Sans, Arial, Helvetica, sans-serif" stroke="#111" stroke-width="0.25" font-size="13.1" text-anchor="end" fill="#111">400</text>
<line x1="40.5" y1="107.10" x2="44.1" y2="107.10" stroke="#111" stroke-width="1"/>
<text x="36.7" y="110.65" font-family="Liberation Sans, Arial, Helvetica, sans-serif" stroke="#111" stroke-width="0.25" font-size="13.1" text-anchor="end" fill="#111">200</text>
<line x1="40.5" y1="145.40" x2="44.1" y2="145.40" stroke="#111" stroke-width="1"/>
<text x="36.7" y="148.95" font-family="Liberation Sans, Arial, Helvetica, sans-serif" stroke="#111" stroke-width="0.25" font-size="13.1" text-anchor="end" fill="#111">0</text>
<line x1="40.2" y1="214.20" x2="43.45" y2="214.20" stroke="#111" stroke-width="1"/>
<text x="36.7" y="218.55" font-family="Liberation Sans, Arial, Helvetica, sans-serif" stroke="#111" stroke-width="0.25" font-size="13.1" text-anchor="end" fill="#111">18</text>
<line x1="40.2" y1="233.30" x2="43.45" y2="233.30" stroke="#111" stroke-width="1"/>
<text x="36.7" y="238.45" font-family="Liberation Sans, Arial, Helvetica, sans-serif" stroke="#111" stroke-width="0.25" font-size="13.1" text-anchor="end" fill="#111">16</text>
<line x1="40.2" y1="252.40" x2="43.45" y2="252.40" stroke="#111" stroke-width="1"/>
<text x="36.7" y="257.15" font-family="Liberation Sans, Arial, Helvetica, sans-serif" stroke="#111" stroke-width="0.25" font-size="13.1" text-anchor="end" fill="#111">14</text>
<line x1="40.2" y1="271.50" x2="43.45" y2="271.50" stroke="#111" stroke-width="1"/>
<text x="36.7" y="276.05" font-family="Liberation Sans, Arial, Helvetica, sans-serif" stroke="#111" stroke-width="0.25" font-size="13.1" text-anchor="end" fill="#111">12</text>
<line x1="40.2" y1="290.60" x2="43.45" y2="290.60" stroke="#111" stroke-width="1"/>
<text x="36.7" y="295.25" font-family="Liberation Sans, Arial, Helvetica, sans-serif" stroke="#111" stroke-width="0.25" font-size="13.1" text-anchor="end" fill="#111">10</text>
<line x1="40.2" y1="310.20" x2="43.45" y2="310.20" stroke="#111" stroke-width="1"/>
<text x="36.7" y="315.45" font-family="Liberation Sans, Arial, Helvetica, sans-serif" stroke="#111" stroke-width="0.25" font-size="13.1" text-anchor="end" fill="#111">8</text>
<line x1="40.2" y1="332.5" x2="43.45" y2="332.5" stroke="#111" stroke-width="1"/>
<text x="36.0" y="336.05" font-family="Liberation Sans, Arial, Helvetica, sans-serif" stroke="#111" stroke-width="0.25" font-size="13.1" text-anchor="end" fill="#111">0</text>
<rect x="42.2" y="326.6" width="2.4" height="2.4" fill="#fff"/>
<text x="277.5" y="179.6" font-family="Liberation Sans, Arial, Helvetica, sans-serif" stroke="#111" stroke-width="0.25" font-size="12.7" text-anchor="middle" fill="#111">Day</text>
<text x="277.5" y="368.8" font-family="Liberation Sans, Arial, Helvetica, sans-serif" stroke="#111" stroke-width="0.25" font-size="12.7" text-anchor="middle" fill="#111">Day</text>
<text transform="translate(13.0,88.7) rotate(-90)" font-family="Liberation Sans, Arial, Helvetica, sans-serif" stroke="#111" stroke-width="0.25" font-size="12.5" text-anchor="middle" fill="#111">Platelets10<tspan dy="-6.8" font-size="6.4">9</tspan><tspan dy="6.8">/L</tspan></text>
<text transform="translate(12.9,279.2) rotate(-90)" font-family="Liberation Sans, Arial, Helvetica, sans-serif" stroke="#111" stroke-width="0.25" font-size="12.7" text-anchor="middle" fill="#111">Hgb (g/dL)</text>
<text x="1.4" y="10.4" font-family="Liberation Sans, Arial, Helvetica, sans-serif" stroke="#111" stroke-width="0.25" font-size="15" font-weight="bold" fill="#111">A</text>
<text x="1.8" y="191.4" font-family="Liberation Sans, Arial, Helvetica, sans-serif" stroke="#111" stroke-width="0.25" font-size="15" font-weight="bold" fill="#111">B</text>
</svg></body></html>
